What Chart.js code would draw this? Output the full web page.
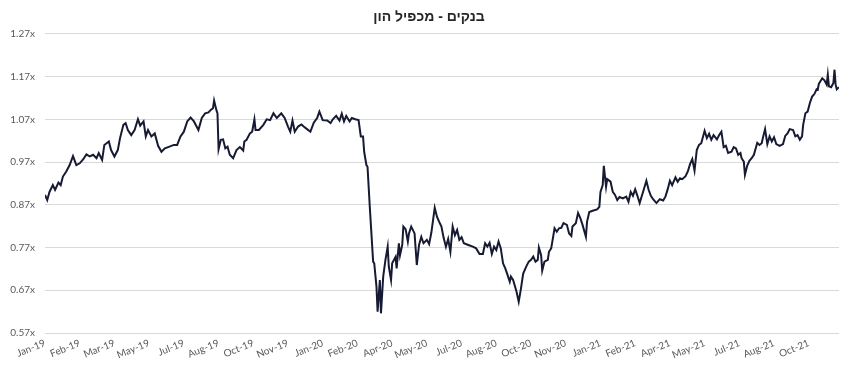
<!DOCTYPE html>
<html lang="he">
<head>
<meta charset="utf-8">
<title>בנקים - מכפיל הון</title>
<script src="https://cdn.jsdelivr.net/npm/chart.js@4.4.1/dist/chart.umd.min.js"></script>
<style>
    html, body { margin: 0; padding: 0; background: #ffffff; }
    #wrap { width: 858px; height: 381px; }
</style>
</head>
<body>
<div id="wrap"><canvas id="pbChart" width="858" height="381"></canvas></div>
<script>
// Chart title
const chartTitle = 'בנקים - מכפיל הון';

// Axis labels shown under the chart, one every labelEvery trading days
const tickLabels = ['Jan-19', 'Feb-19', 'Mar-19', 'May-19', 'Jul-19', 'Aug-19', 'Oct-19', 'Nov-19',
    'Jan-20', 'Feb-20', 'Apr-20', 'May-20', 'Jul-20', 'Aug-20', 'Oct-20', 'Nov-20',
    'Jan-21', 'Feb-21', 'Apr-21', 'May-21', 'Jul-21', 'Aug-21', 'Oct-21'];
const labelEvery = 31;
const lastDay = 709;

// Y axis ticks (P/B multiple)
const yTicks = [0.57, 0.67, 0.77, 0.87, 0.97, 1.07, 1.17, 1.27];

// [trading day since Jan-19, P/B multiple]
const pbByDay = [
    [0, 0.893], [2, 0.881], [4, 0.900], [7, 0.916], [9, 0.905], [12, 0.922], [14, 0.916], [16, 0.936],
    [19, 0.948], [22, 0.963], [25, 0.984], [28, 0.963], [31, 0.967], [34, 0.976], [37, 0.988], [40, 0.983],
    [43, 0.987], [46, 0.979], [48, 0.991], [51, 0.975], [53, 1.010], [55, 1.014], [57, 1.018], [59, 0.998],
    [62, 0.983], [65, 0.998], [67, 1.026], [70, 1.057], [72, 1.061], [74, 1.045], [77, 1.033], [80, 1.045],
    [83, 1.070], [85, 1.055], [88, 1.065], [90, 1.030], [92, 1.045], [95, 1.030], [98, 1.037], [101, 1.008],
    [104, 0.994], [107, 1.002], [110, 1.005], [115, 1.010],
    [118, 1.010], [121, 1.030], [124, 1.041], [127, 1.065], [130, 1.074], [133, 1.065], [137, 1.045], [140, 1.073],
    [143, 1.084], [146, 1.086], [148, 1.092], [150, 1.096], [151, 1.114], [153, 1.092], [154, 1.084], [155, 1.000],
    [157, 1.022], [159, 1.023], [161, 1.002], [163, 1.006], [165, 0.987], [168, 0.979], [171, 0.998], [174, 1.005],
    [177, 0.997], [178, 1.018], [180, 1.022], [183, 1.037], [185, 1.041], [187, 1.070], [188, 1.045], [191, 1.045],
    [195, 1.057], [198, 1.070], [201, 1.068], [204, 1.084], [207, 1.073], [211, 1.084], [214, 1.073], [217, 1.053],
    [219, 1.041], [221, 1.067], [223, 1.041], [226, 1.053],
    [229, 1.058], [231, 1.053], [234, 1.047], [237, 1.041], [240, 1.062], [243, 1.073], [245, 1.088], [248, 1.068],
    [252, 1.067], [255, 1.061], [257, 1.070], [260, 1.078], [263, 1.067], [265, 1.083], [267, 1.065], [269, 1.078],
    [272, 1.065], [274, 1.073], [277, 1.070], [280, 1.068], [282, 1.030], [284, 1.030], [285, 0.994], [287, 0.963],
    [288, 0.959], [290, 0.866], [293, 0.737], [294, 0.733], [296, 0.678], [297, 0.620], [299, 0.694], [300, 0.616],
    [302, 0.702], [304, 0.741], [306, 0.772], [307, 0.725], [309, 0.694], [310, 0.733], [313, 0.748], [314, 0.721],
    [316, 0.780], [317, 0.752], [319, 0.776], [320, 0.819], [322, 0.813], [324, 0.784], [325, 0.803], [327, 0.819],
    [330, 0.803], [332, 0.729], [334, 0.776], [336, 0.795], [338, 0.780], [341, 0.788], [343, 0.778], [345, 0.805],
    [348, 0.863],
    [350, 0.842], [352, 0.830], [354, 0.819], [356, 0.792], [358, 0.772], [360, 0.790], [362, 0.760], [364, 0.819],
    [366, 0.799], [368, 0.811], [370, 0.788], [372, 0.794], [374, 0.780], [378, 0.776], [382, 0.772], [385, 0.768],
    [388, 0.755], [391, 0.755], [393, 0.780], [395, 0.772], [397, 0.781], [399, 0.755], [401, 0.772], [403, 0.764],
    [405, 0.784], [407, 0.768], [409, 0.733], [411, 0.721], [413, 0.706], [415, 0.690], [416, 0.702], [418, 0.694],
    [421, 0.667], [423, 0.643], [425, 0.674], [427, 0.709], [430, 0.727], [432, 0.737], [434, 0.741], [436, 0.749],
    [438, 0.737], [440, 0.741], [441, 0.770], [443, 0.752], [444, 0.716], [446, 0.737], [449, 0.741], [450, 0.760],
    [452, 0.768], [454, 0.799], [455, 0.815], [457, 0.807], [459, 0.815], [461, 0.816], [463, 0.827],
    [466, 0.823], [468, 0.803], [470, 0.797], [471, 0.819], [474, 0.827], [476, 0.851], [478, 0.839], [480, 0.823],
    [483, 0.795], [484, 0.830], [486, 0.853], [489, 0.856], [493, 0.859], [495, 0.865], [496, 0.900], [498, 0.916],
    [499, 0.961], [501, 0.912], [502, 0.930], [505, 0.924], [507, 0.900], [509, 0.893], [511, 0.881], [513, 0.888],
    [516, 0.885], [519, 0.889], [521, 0.877], [523, 0.900], [525, 0.891], [527, 0.906], [529, 0.891], [531, 0.874],
    [534, 0.900], [537, 0.926], [539, 0.905], [541, 0.891], [543, 0.883], [546, 0.874], [549, 0.883], [552, 0.880],
    [554, 0.889], [556, 0.906], [558, 0.926], [560, 0.916], [563, 0.934], [565, 0.924], [567, 0.932], [569, 0.930],
    [572, 0.937], [574, 0.948], [576, 0.965], [578, 0.977], [580, 0.950],
    [582, 0.998], [584, 1.010], [586, 1.014], [589, 1.043], [591, 1.026], [593, 1.036], [595, 1.022], [597, 1.033],
    [600, 1.023], [602, 1.033], [604, 1.041], [606, 1.005], [608, 1.008], [610, 0.991], [613, 0.994], [615, 1.005],
    [617, 1.002], [619, 0.987], [621, 0.991], [622, 0.979], [624, 0.971], [625, 0.940], [627, 0.961], [629, 0.973],
    [631, 0.979], [633, 0.987], [636, 1.015], [638, 1.010], [640, 1.014], [641, 1.026], [643, 1.047], [645, 1.012],
    [647, 1.030], [649, 1.018], [651, 1.028], [653, 1.012], [656, 1.008], [659, 1.012], [661, 1.031], [663, 1.037],
    [665, 1.047], [668, 1.045], [670, 1.030], [672, 1.033], [674, 1.022], [676, 1.030], [677, 1.057], [679, 1.084],
    [681, 1.088], [683, 1.108], [685, 1.123], [687, 1.129], [689, 1.140], [690, 1.139], [691, 1.153], [694, 1.166],
    [696, 1.161], [698, 1.151], [699, 1.174], [700, 1.147], [702, 1.145], [704, 1.155], [705, 1.186], [706, 1.151],
    [707, 1.140], [709, 1.145]
];

const tickFont = { family: 'Lato, "Liberation Sans", sans-serif', size: 10 };

const ctx = document.getElementById('pbChart').getContext('2d');
new Chart(ctx, {
    type: 'line',
    data: {
        datasets: [{
            label: chartTitle,
            data: pbByDay.map(([day, pb]) => ({ x: day, y: pb })),
            borderColor: '#161a33',
            borderWidth: 2,
            pointRadius: 0,
            tension: 0,
            fill: false
        }]
    },
    options: {
        responsive: false,
        animation: false,
        devicePixelRatio: 1,
        layout: { padding: 0 },
        plugins: {
            legend: { display: false },
            tooltip: { enabled: false },
            title: {
                display: true,
                text: chartTitle,
                color: '#262626',
                font: { family: '"Liberation Sans", "DejaVu Sans", sans-serif', size: 14, weight: 'bold' },
                padding: { top: 9, bottom: 8 }
            }
        },
        scales: {
            x: {
                type: 'linear',
                min: 0,
                max: lastDay,
                grid: { display: false, drawTicks: false },
                border: { display: false },
                afterBuildTicks: scale => {
                    scale.ticks = tickLabels.map((_, i) => ({ value: i * labelEvery }));
                },
                afterFit: scale => { scale.height = 48; },
                ticks: {
                    autoSkip: false,
                    minRotation: 22,
                    maxRotation: 22,
                    padding: 4,
                    color: '#595959',
                    font: tickFont,
                    callback: (value, index) => tickLabels[index]
                }
            },
            y: {
                min: yTicks[0],
                max: yTicks[yTicks.length - 1],
                grid: { color: '#d9d9d9', lineWidth: 1, drawTicks: false },
                border: { display: false },
                afterBuildTicks: scale => {
                    scale.ticks = yTicks.map(v => ({ value: v }));
                },
                afterFit: scale => { scale.width = 45; },
                ticks: {
                    padding: 10,
                    color: '#595959',
                    font: tickFont,
                    callback: value => value.toFixed(2) + 'x'
                }
            },
            // empty right margin so the title stays centred on the whole canvas
            yRight: {
                position: 'right',
                grid: { display: false, drawTicks: false },
                border: { display: false },
                ticks: { display: false },
                afterFit: scale => { scale.width = 19; }
            }
        }
    }
});
</script>
</body>
</html>
